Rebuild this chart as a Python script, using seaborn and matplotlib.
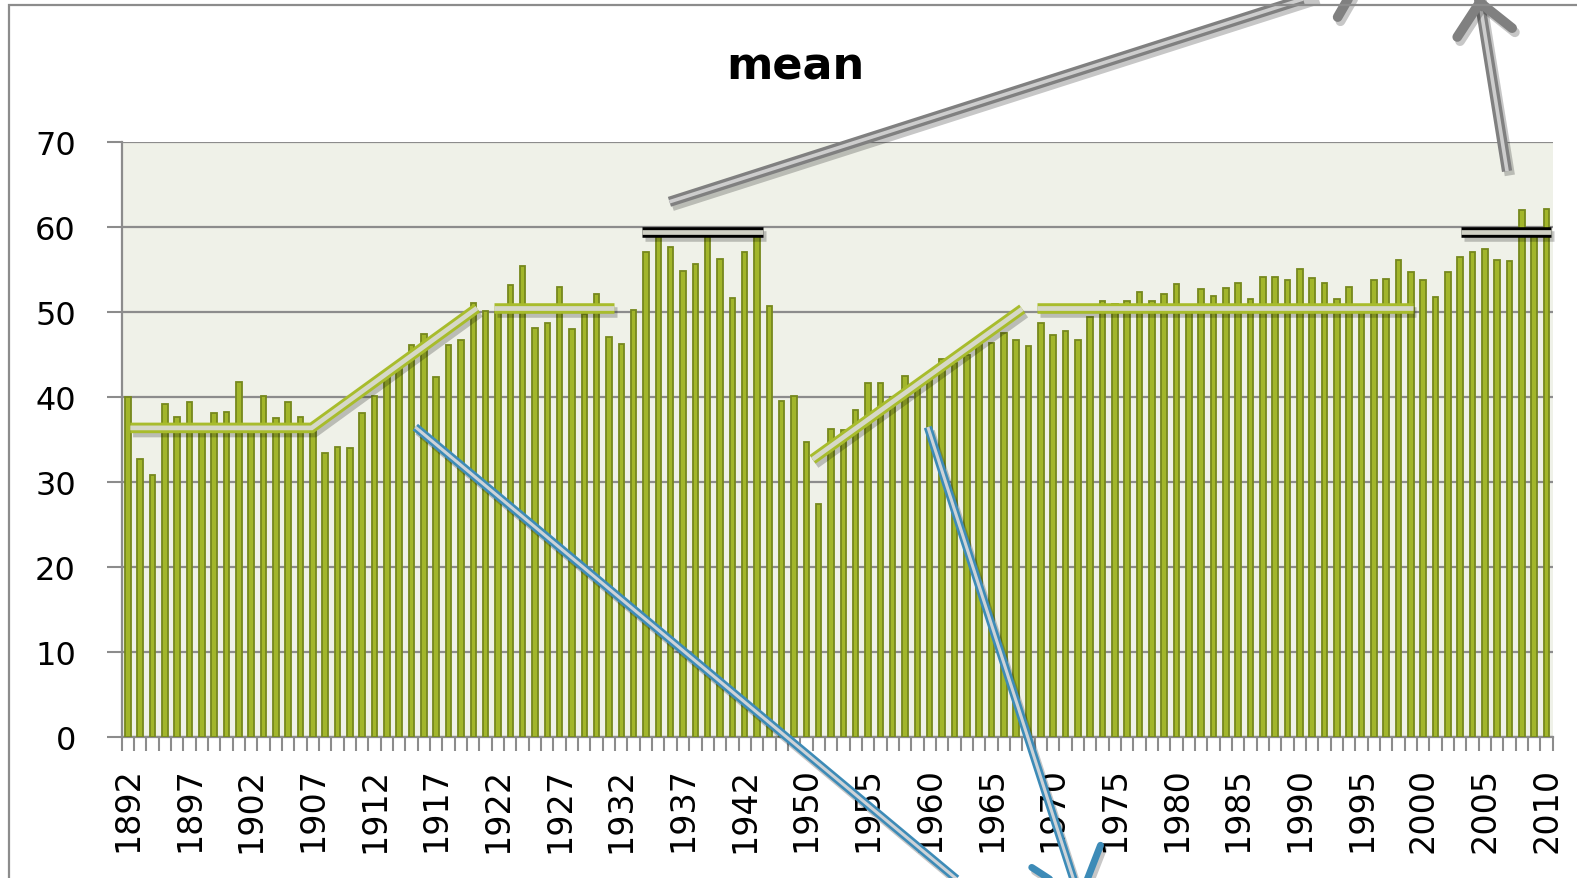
import numpy as np
import matplotlib
matplotlib.use("Agg")
import matplotlib.pyplot as plt
import matplotlib.patheffects as pe
from matplotlib.patches import Rectangle
import seaborn as sns

# years on the axis (1943-1945 are missing in the source)
years = [str(y) for y in range(1892, 1943)] + [str(y) for y in range(1946, 2011)]

mean_values = [
    40.0, 32.8, 30.9, 39.2, 37.7, 39.4, 36.0, 38.2, 38.3, 41.8,   # 1892-1901
    36.2, 40.1, 37.6, 39.4, 37.7, 36.9, 33.5, 34.2, 34.0, 38.1,   # 1902-1911
    40.1, 43.1, 43.3, 46.2, 47.4, 42.4, 46.1, 46.8, 51.1, 50.1,   # 1912-1921
    50.0, 53.2, 55.4, 48.2, 48.8, 53.0, 48.0, 49.8, 52.2, 47.1,   # 1922-1931
    46.3, 50.3, 57.1, 59.0, 57.7, 54.9, 55.7, 59.8, 56.3, 51.7,   # 1932-1941
    57.1,                                                         # 1942
    59.0, 50.7, 39.6, 40.1, 34.8, 27.5, 36.3, 36.2, 38.5, 41.7,   # 1946-1955
    41.7, 40.0, 42.5, 41.9, 42.0, 44.5, 44.0, 45.0, 46.3, 46.4,   # 1956-1965
    47.6, 46.7, 46.0, 48.7, 47.3, 47.8, 46.7, 49.5, 51.3, 51.0,   # 1966-1975
    51.3, 52.4, 51.3, 52.1, 53.3, 50.3, 52.8, 51.9, 52.9, 53.4,   # 1976-1985
    51.6, 54.2, 54.2, 53.8, 55.1, 54.0, 53.4, 51.6, 53.0, 50.4,   # 1986-1995
    53.8, 53.9, 56.1, 54.8, 53.8, 51.8, 54.8, 56.5, 57.1, 57.4,   # 1996-2005
    56.2, 56.0, 62.0, 59.5, 62.2,                                 # 2006-2010
]

GRID = "#8c8c8c"
BAR_FILL = "#a2b62b"
BAR_EDGE = "#76881d"
LIME = "#a8bc2c"
BLUE = "#3d8bb7"
GRAY = "#808080"

fig = plt.figure(figsize=(15.77, 8.79), dpi=100)
ax = fig.add_axes([121.7 / 1577, 1 - 738.3 / 879,
                   (1552.7 - 121.7) / 1577, (738.3 - 143.3) / 879])
ax.set_facecolor("#eff1e8")

sns.barplot(x=years, y=mean_values, color=BAR_FILL, saturation=1, width=0.45,
            edgecolor=BAR_EDGE, linewidth=1.3, ax=ax, zorder=3)

ax.set_xlim(-0.5, len(years) - 0.5)
ax.set_ylim(0, 70)
ax.set_xlabel("")
ax.set_ylabel("")

ax.set_xticks(range(0, len(years), 5))
ax.set_xticklabels(years[::5])
ax.set_xticks(np.arange(-0.5, len(years), 1), minor=True)
ax.tick_params(axis="x", which="major", length=0, pad=21, labelrotation=90, labelsize=24)
ax.tick_params(axis="x", which="minor", length=10, width=1.5, color=GRID)

ax.set_yticks(range(0, 71, 10))
ax.tick_params(axis="y", length=11, width=1.5, color=GRID, pad=22, labelsize=23)
ax.yaxis.grid(True, color=GRID, lw=1.6)
ax.set_axisbelow(True)

for s in ["top", "right"]:
    ax.spines[s].set_visible(False)
for s in ["left", "bottom"]:
    ax.spines[s].set_color(GRID)
    ax.spines[s].set_linewidth(1.6)

shadow = [pe.SimpleLineShadow(offset=(2, -3), alpha=0.22), pe.Normal()]


def double_line(xs, ys, color, gap, lw, gap_lw, head=None):
    ax.plot(xs, ys, color=color, lw=lw, solid_capstyle="butt", solid_joinstyle="miter",
            clip_on=False, zorder=6, path_effects=shadow)
    ax.plot(xs, ys, color=gap, lw=gap_lw, solid_capstyle="butt", solid_joinstyle="miter",
            clip_on=False, zorder=6.1)
    if head is not None:
        hl, hw, hlw = head
        # only a short piece near the tip, so the double shaft stays visible
        tip = (xs[-1], ys[-1])
        near = (xs[-1] - 0.03 * (xs[-1] - xs[-2]), ys[-1] - 0.03 * (ys[-1] - ys[-2]))
        arrow = ax.annotate("", xy=tip, xytext=near, annotation_clip=False, zorder=6.2,
                            arrowprops=dict(arrowstyle=f"->,head_length={hl},head_width={hw}",
                                            mutation_scale=20, color=color, lw=hlw,
                                            capstyle="round", joinstyle="round",
                                            shrinkA=0, shrinkB=0))
        arrow.arrow_patch.set_path_effects(shadow)


# trend / level marks
double_line([0.2, 14.9, 28.3], [36.4, 36.4, 50.5], LIME, "#d6d8c8", 7.6, 3.4)
double_line([29.7, 39.4], [50.5, 50.5], LIME, "#d6d8c8", 7.6, 3.4)
double_line([55.5, 72.5], [32.7, 50.4], LIME, "#d6d8c8", 7.6, 3.4)
double_line([73.7, 104.2], [50.5, 50.5], LIME, "#d6d8c8", 7.6, 3.4)
double_line([41.7, 51.5], [59.5, 59.5], "black", "#cfd0c4", 7.6, 3.4)
double_line([108.1, 115.4], [59.5, 59.5], "black", "#cfd0c4", 7.6, 3.4)

# arrows
double_line([23.3, 69.1], [36.5, -19.0], BLUE, "#cdd3d8", 6.0, 2.2)
double_line([64.85, 77.3], [36.5, -19.6], BLUE, "#cdd3d8", 6.0, 2.2, head=(1.6, 1.3, 5.0))
double_line([43.9, 100.3], [63.0, 89.2], GRAY, "#cdcdcd", 7.4, 2.6, head=(1.1, 1.0, 7.0))
double_line([111.8, 109.5], [66.6, 87.3], GRAY, "#cdcdcd", 7.4, 2.6, head=(1.1, 1.0, 7.0))

fig.text(795 / 1577, 1 - 67 / 879, "mean", ha="center", va="center",
         fontsize=32, fontweight="bold")

fig.add_artist(Rectangle((9 / 1577, -0.2), 2, 1.2 - 6 / 879, transform=fig.transFigure,
                         fill=False, edgecolor=GRID, lw=1.6))

fig.savefig("out.png", dpi=100)
